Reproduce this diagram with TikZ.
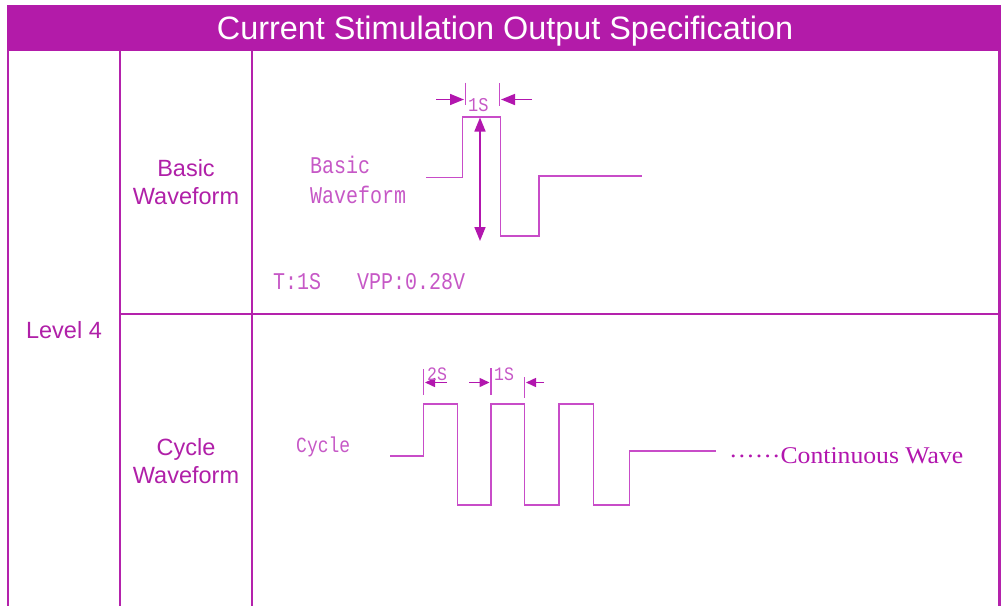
\documentclass[tikz,border=0pt]{standalone}
\usepackage{fontspec}
\setmainfont{Liberation Sans}
\newfontfamily\monof{Liberation Mono}
\newfontfamily\seriff{Liberation Serif}
\usetikzlibrary{arrows.meta}
\definecolor{hdr}{HTML}{B31BA9}
\definecolor{gridc}{HTML}{B422AC}
\definecolor{wavec}{HTML}{C84CC8}
\definecolor{arrc}{HTML}{B216AE}
\definecolor{wtxt}{HTML}{C658C6}
\definecolor{side}{HTML}{B020A8}
\begin{document}
\begin{tikzpicture}[x=1pt,y=-1pt,
  gridline/.style={draw=gridc,line width=2.6pt},
  waveline/.style={draw=wavec,line width=1.8pt},
  tickline/.style={draw=wavec,line width=1.5pt},
  bigarrow/.style={draw=arrc,line width=1.6pt,-{Triangle[length=14pt,width=11pt]}},
  dblarrow/.style={draw=arrc,line width=1.6pt,{Triangle[length=14pt,width=11pt]}-{Triangle[length=14pt,width=11pt]}},
  smallarrow/.style={draw=arrc,line width=1.5pt,-{Triangle[length=10pt,width=9pt]}},
  sidetext/.style={text=side,font=\fontsize{23.5}{28}\selectfont,align=center,inner sep=0pt},
  monotext/.style={text=wtxt,font=\monof\fontsize{20}{24}\selectfont,inner sep=0pt,anchor=base west,yscale=1.2,transform shape},
  smallmono/.style={text=wtxt,font=\monof\fontsize{17}{20}\selectfont,inner sep=0pt,anchor=base west,yscale=1.15,transform shape},
  hdrtext/.style={text=white,font=\fontsize{32.4}{36}\selectfont,inner sep=0pt,anchor=base}
]
\useasboundingbox (0,0) rectangle (1001,606);
% header
\fill[hdr] (7,5) rectangle (1001,51);
\node[hdrtext] (title) at (505,39.5) {Current Stimulation Output Specification};
% grid
\draw[gridline] (8,50) -- (8,606);
\draw[gridline] (120,50) -- (120,606);
\draw[gridline] (252,50) -- (252,606);
\draw[gridline] (999.5,50) -- (999.5,606);
\draw[gridline] (120,314) -- (1001,314);
% side labels
\node[sidetext] (lvl) at (64,330) {Level 4};
\node[sidetext] (basiclab) at (186,182.5) {Basic\\Waveform};
\node[sidetext] (cyclelab) at (186,461) {Cycle\\Waveform};
% basic waveform
\draw[waveline] (426,177.5) -- (462.5,177.5) -- (462.5,117) -- (500.5,117) -- (500.5,236) -- (539,236) -- (539,176) -- (642,176);
\coordinate (vtop) at (480,117.5);
\coordinate (vbot) at (480,241);
\draw[dblarrow] (vtop) -- (vbot);
\coordinate (t1a) at (465.5,82.5); \coordinate (t1b) at (465.5,105);
\coordinate (t2a) at (499.5,83); \coordinate (t2b) at (499.5,106);
\draw[tickline] (t1a) -- (t1b);
\draw[tickline] (t2a) -- (t2b);
\coordinate (la) at (436,99.5); \coordinate (lb) at (464,99.5);
\coordinate (ra) at (532,99.5); \coordinate (rb) at (501,99.5);
\draw[bigarrow] (la) -- (lb);
\draw[bigarrow] (ra) -- (rb);
\node[smallmono] (ones) at (468,111.5) {1S};
\node[monotext] (bw1) at (310,173) {Basic};
\node[monotext] (bw2) at (310,203) {Waveform};
\node[monotext] (tv) at (273,289) {T:1S\ \ \ VPP:0.28V};
% cycle waveform
\draw[waveline] (390,456) -- (423.5,456) -- (423.5,404) -- (457.5,404) -- (457.5,505) -- (491,505) -- (491,404) -- (524.5,404) -- (524.5,505) -- (559,505) -- (559,404) -- (593.5,404) -- (593.5,505) -- (629.5,505) -- (629.5,451) -- (716,451);
\coordinate (c1a) at (423.5,369); \coordinate (c1b) at (423.5,395);
\coordinate (c2a) at (491,368); \coordinate (c2b) at (491,395);
\coordinate (c3a) at (524.5,377); \coordinate (c3b) at (524.5,398);
\draw[tickline] (c1a) -- (c1b);
\draw[tickline] (c2a) -- (c2b);
\draw[tickline] (c3a) -- (c3b);
\coordinate (a1s) at (447,382.5); \coordinate (a1e) at (425,382.5);
\coordinate (a2s) at (469,382.5); \coordinate (a2e) at (489.5,382.5);
\coordinate (a3s) at (544,382.5); \coordinate (a3e) at (526,382.5);
\draw[smallarrow] (a1s) -- (a1e);
\draw[smallarrow] (a2s) -- (a2e);
\draw[smallarrow] (a3s) -- (a3e);
\node[smallmono,font=\monof\fontsize{16.5}{19}\selectfont] (twos) at (427,380) {2S};
\node[smallmono,font=\monof\fontsize{16.5}{19}\selectfont] (ones2) at (494,380) {1S};
\node[monotext,font=\monof\fontsize{18}{22}\selectfont] (cyc) at (296,452) {Cycle};
\node[anchor=base west,inner sep=0pt,text=arrc,font=\seriff\fontsize{24}{28}\selectfont,xscale=1.07,transform shape] (cont) at (729,463) {\raisebox{0.25em}{……}Continuous Wave};
\end{tikzpicture}
\end{document}
